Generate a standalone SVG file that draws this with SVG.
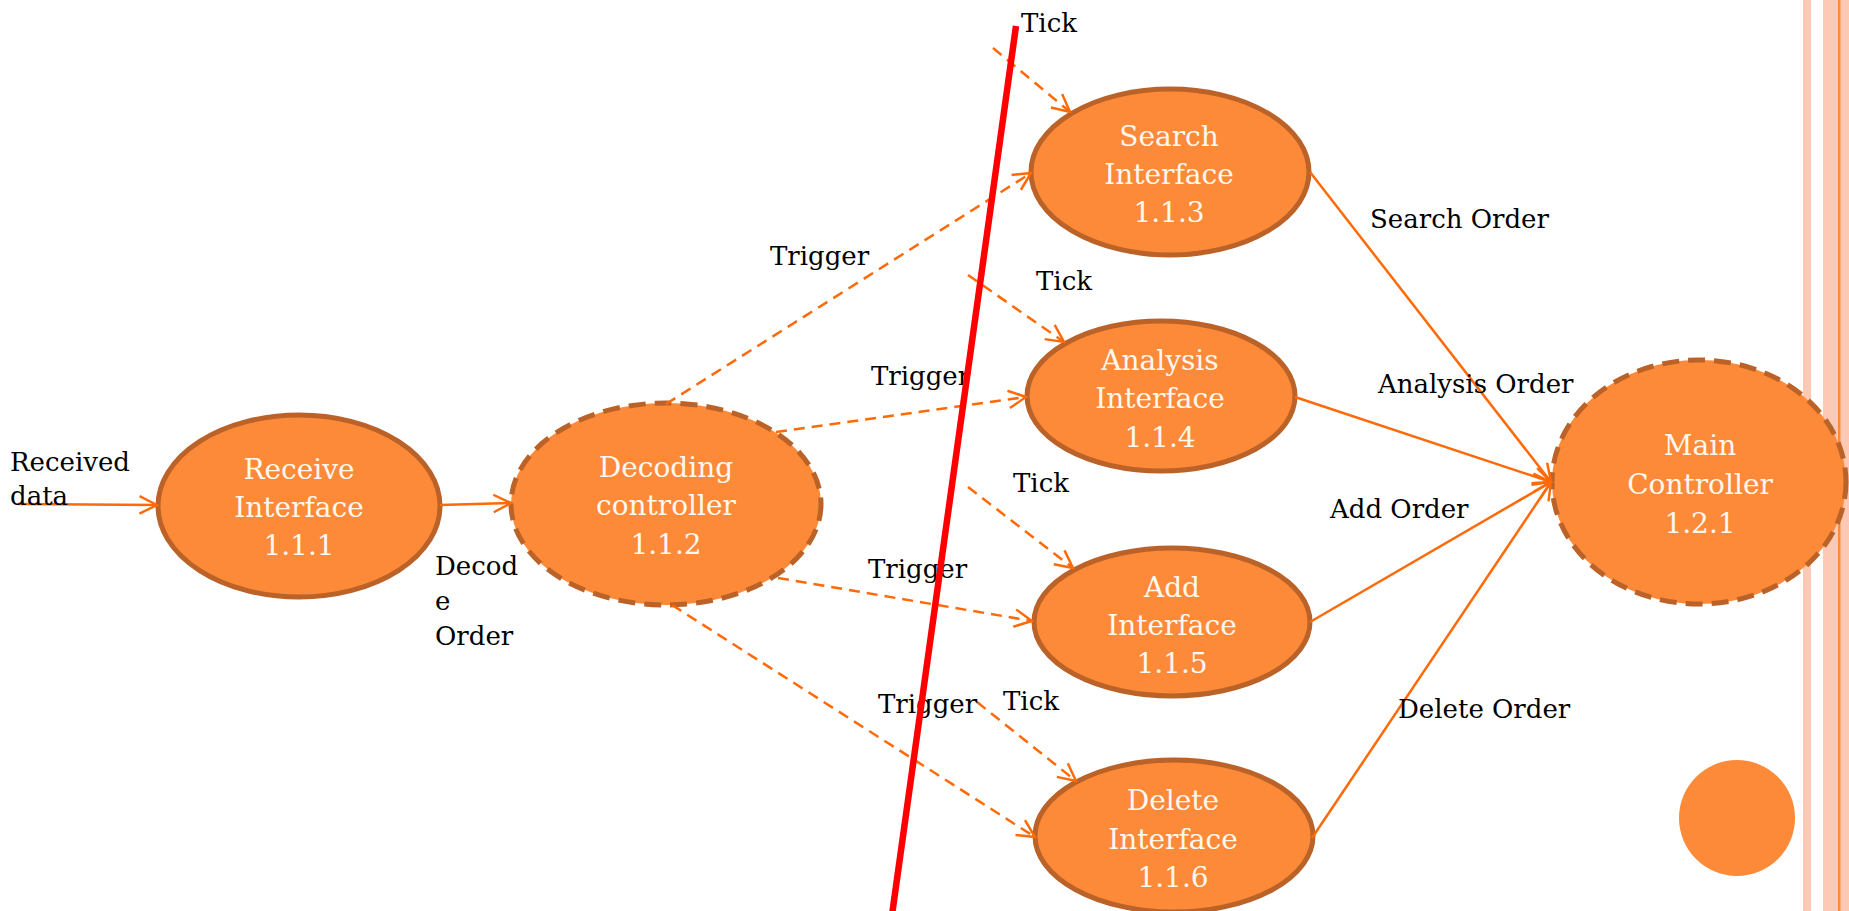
<svg xmlns="http://www.w3.org/2000/svg" width="1849" height="911" viewBox="0 0 1849 911">
<defs>
<style>
.node{fill:#fd8a38;stroke:#bb6228;stroke-width:5}
.dnode{fill:#fd8a38;stroke:#bb6228;stroke-width:5;stroke-dasharray:17 9}
.nt{font-family:"DejaVu Serif",serif;font-size:28px;fill:#fff8f0;text-anchor:middle}
.lb{font-family:"DejaVu Serif",serif;font-size:26px;fill:#000}
.c{fill:none;stroke:#ff6a08;stroke-width:2.5;marker-end:url(#ah)}
.d{fill:none;stroke:#ff6a08;stroke-width:2.5;stroke-dasharray:11 7;marker-end:url(#ah)}
</style>
<marker id="ah" viewBox="0 0 12 12" refX="11" refY="6" markerWidth="21" markerHeight="21" markerUnits="userSpaceOnUse" orient="auto">
<path d="M1,1 L11,6 L1,11" fill="none" stroke="#ff6a08" stroke-width="1.4"/>
</marker>
</defs>
<rect x="0" y="0" width="1849" height="911" fill="#ffffff"/>
<g id="stripes">
<rect x="1803" y="0" width="8" height="911" fill="#fdc8b4"/>
<rect x="1823" y="0" width="26" height="911" fill="#fdc8b4"/>
<rect x="1838" y="0" width="2.5" height="911" fill="#fd8a38"/>
</g>
<g id="deco-circle"><circle cx="1737" cy="818" r="58" fill="#fd8a38"/></g>

<g id="n111"><ellipse class="node" cx="299" cy="506" rx="141" ry="91"/>
<text class="nt" x="299" y="479">Receive</text><text class="nt" x="299" y="517">Interface</text><text class="nt" x="299" y="555">1.1.1</text></g>
<g id="n112"><ellipse class="dnode" cx="666" cy="504" rx="155" ry="101"/>
<text class="nt" x="666" y="477">Decoding</text><text class="nt" x="666" y="515">controller</text><text class="nt" x="666" y="554">1.1.2</text></g>
<g id="n113"><ellipse class="node" cx="1170" cy="172" rx="139" ry="83"/>
<text class="nt" x="1169" y="146">Search</text><text class="nt" x="1169" y="184">Interface</text><text class="nt" x="1169" y="222">1.1.3</text></g>
<g id="n114"><ellipse class="node" cx="1161" cy="396" rx="134" ry="75"/>
<text class="nt" x="1160" y="370">Analysis</text><text class="nt" x="1160" y="408">Interface</text><text class="nt" x="1160" y="447">1.1.4</text></g>
<g id="n115"><ellipse class="node" cx="1172" cy="622" rx="138" ry="74"/>
<text class="nt" x="1172" y="597">Add</text><text class="nt" x="1172" y="635">Interface</text><text class="nt" x="1172" y="673">1.1.5</text></g>
<g id="n116"><ellipse class="node" cx="1174" cy="836" rx="139" ry="76"/>
<text class="nt" x="1173" y="810">Delete</text><text class="nt" x="1173" y="849">Interface</text><text class="nt" x="1173" y="887">1.1.6</text></g>
<g id="n121"><ellipse class="dnode" cx="1699" cy="482" rx="147" ry="122"/>
<text class="nt" x="1700" y="455">Main</text><text class="nt" x="1700" y="494">Controller</text><text class="nt" x="1700" y="533">1.2.1</text></g>

<g id="connectors">
<path class="c" d="M18,504 L157,505"/>
<path class="c" d="M440,505 L511,503"/>
<path class="c" d="M1310,172 L1551,482"/>
<path class="c" d="M1295,397 L1551,482"/>
<path class="c" d="M1310,622 L1551,482"/>
<path class="c" d="M1312,838 L1551,482"/>
<path class="d" d="M666,404 L1031,173"/>
<path class="d" d="M776,432 L1026,397"/>
<path class="d" d="M778,578 L1032,621"/>
<path class="d" d="M672,605 L1035,837"/>
<path class="d" d="M993,48 L1070,112"/>
<path class="d" d="M968,275 L1064,342"/>
<path class="d" d="M968,487 L1073,568"/>
<path class="d" d="M977,702 L1076,781"/>
</g>

<g id="labels">
<text class="lb" x="10" y="471">Received</text>
<text class="lb" x="10" y="505">data</text>
<text class="lb" x="435" y="575">Decod</text>
<text class="lb" x="435" y="610">e</text>
<text class="lb" x="435" y="645">Order</text>
<text class="lb" x="770" y="265">Trigger</text>
<text class="lb" x="871" y="385">Trigger</text>
<text class="lb" x="868" y="578">Trigger</text>
<text class="lb" x="878" y="713">Trigger</text>
<text class="lb" x="1021" y="32">Tick</text>
<text class="lb" x="1036" y="290">Tick</text>
<text class="lb" x="1013" y="492">Tick</text>
<text class="lb" x="1003" y="710">Tick</text>
<text class="lb" x="1370" y="228">Search Order</text>
<text class="lb" x="1378" y="393">Analysis Order</text>
<text class="lb" x="1330" y="518">Add Order</text>
<text class="lb" x="1398" y="718">Delete Order</text>
</g>

<g id="tick-line"><line x1="1016" y1="26" x2="892" y2="915" stroke="#ff0000" stroke-width="6.5"/></g>
</svg>
